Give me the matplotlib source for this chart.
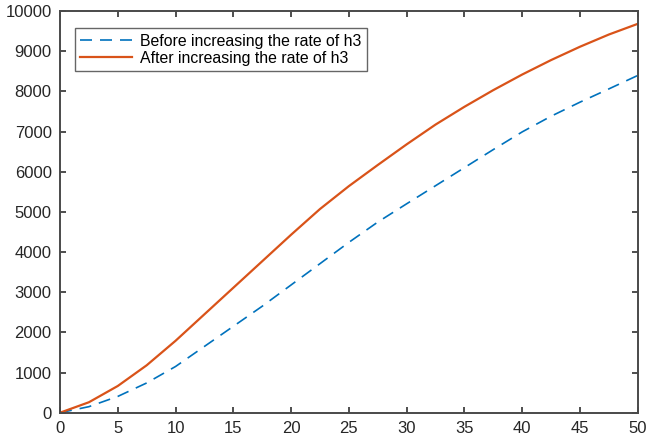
import matplotlib
matplotlib.use("Agg")
import matplotlib.pyplot as plt

x = [0, 2.5, 5, 7.5, 10, 12.5, 15, 17.5, 20, 22.5, 25, 27.5, 30, 32.5, 35, 37.5, 40, 42.5, 45, 47.5, 50]
before = [0, 150, 405, 740, 1150, 1650, 2150, 2650, 3180, 3710, 4240, 4745, 5200, 5650, 6100, 6550, 6990, 7380, 7730, 8060, 8395]
after = [0, 260, 665, 1180, 1790, 2450, 3110, 3770, 4430, 5070, 5640, 6166, 6680, 7172, 7615, 8030, 8418, 8778, 9110, 9414, 9680]
labels = ["Before increasing the rate of h3", "After increasing the rate of h3"]
xticks = [0, 5, 10, 15, 20, 25, 30, 35, 40, 45, 50]
yticks = [0, 1000, 2000, 3000, 4000, 5000, 6000, 7000, 8000, 9000, 10000]

plt.rcParams['font.family'] = ['Liberation Sans', 'DejaVu Sans']

fig = plt.figure(figsize=(6.46, 4.41), dpi=100)
ax = fig.add_axes([60/646, (441-412.7)/441, 577.7/646, 401.7/441])

ax.plot(x, before, color='#0072BD', lw=1.2, dashes=(7.2, 4.8), label=labels[0])
ax.plot(x, after, color='#D95319', lw=1.6, label=labels[1])

ax.set_xlim(0, 50)
ax.set_ylim(0, 10000)
ax.set_xticks(xticks)
ax.set_yticks(yticks)
ax.tick_params(direction='in', length=4, width=1.3, colors='#404040',
               labelcolor='#262626', labelsize=12, top=True, right=True, pad=6)
for s in ax.spines.values():
    s.set_color('#4a4a4a')
    s.set_linewidth(1.4)

leg = ax.legend(loc='upper left', bbox_to_anchor=(0.0254, 0.957), borderaxespad=0,
                fontsize=11.4, handlelength=3.3, handletextpad=0.45, fancybox=False,
                framealpha=1, edgecolor='#666666', borderpad=0.35, labelspacing=0.12)
leg.get_frame().set_linewidth(1.0)

fig.savefig('out.png', dpi=100)
